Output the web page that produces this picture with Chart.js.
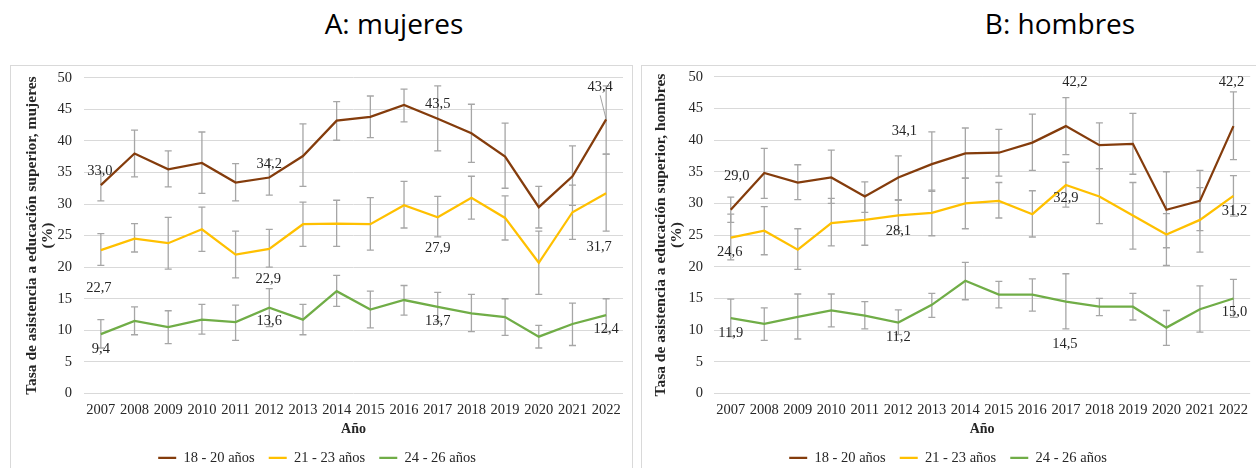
<!DOCTYPE html>
<html>
<head>
<meta charset="utf-8">
<script src="https://cdn.jsdelivr.net/npm/chart.js@4.4.1/dist/chart.umd.min.js"></script>
<style>
  html, body { margin:0; padding:0; background:#fff; width:1256px; height:468px; overflow:hidden; }
  .title { position:absolute; top:4px; font-family:"Open Sans", sans-serif; font-size:28px; color:#000; white-space:nowrap; transform:translateX(-50%); }
  .box { position:absolute; top:65px; border:1px solid #d9d9d9; height:430px; }
  canvas { position:absolute; top:57px; }
</style>
</head>
<body>
<div class="title" style="left:394px;">A: mujeres</div>
<div class="title" style="left:1060px;">B: hombres</div>
<div class="box" style="left:10px; width:621px;"></div>
<div class="box" style="left:641px; width:640px;"></div>
<canvas id="cM" width="621" height="418" style="left:11px;"></canvas>
<canvas id="cH" width="614" height="418" style="left:642px;"></canvas>
<script>
// ---------- DATA ----------
const years = ['2007','2008','2009','2010','2011','2012','2013','2014','2015','2016','2017','2018','2019','2020','2021','2022'];
const seriesNames = ['18 - 20 años', '21 - 23 años', '24 - 26 años'];
const yTickValues = [0, 5, 10, 15, 20, 25, 30, 35, 40, 45, 50];

// A: mujeres
const muj18 = [33.0, 38.0, 35.5, 36.5, 33.4, 34.2, 37.6, 43.2, 43.8, 45.7, 43.5, 41.2, 37.5, 29.5, 34.4, 43.4];
const muj18Hi = [35.0, 41.7, 38.4, 41.4, 36.4, 37.0, 42.7, 46.2, 47.1, 48.2, 48.7, 45.8, 42.8, 32.8, 39.2, 48.7];
const muj18Lo = [30.5, 34.3, 32.7, 31.7, 30.5, 31.4, 32.8, 40.1, 40.5, 43.0, 38.4, 36.6, 32.5, 26.2, 29.8, 37.9];
const muj21 = [22.7, 24.5, 23.8, 26.0, 22.0, 22.9, 26.8, 26.9, 26.8, 29.8, 27.9, 31.0, 27.8, 20.7, 28.7, 31.7];
const muj21Hi = [25.3, 26.9, 27.9, 29.5, 25.7, 26.0, 30.3, 30.6, 31.0, 33.6, 31.2, 34.4, 31.3, 25.7, 33.0, 37.9];
const muj21Lo = [20.3, 22.4, 19.7, 22.5, 18.3, 20.0, 23.3, 23.3, 22.7, 26.2, 24.8, 27.6, 24.3, 15.7, 24.4, 25.7];
const muj24 = [9.4, 11.5, 10.5, 11.7, 11.3, 13.6, 11.7, 16.2, 13.3, 14.8, 13.7, 12.7, 12.1, 9.0, 11.0, 12.4];
const muj24Hi = [11.7, 13.7, 13.1, 14.1, 14.0, 16.6, 14.1, 18.7, 16.2, 17.1, 16.0, 15.7, 15.0, 10.8, 14.3, 15.0];
const muj24Lo = [7.2, 9.3, 7.9, 9.4, 8.4, 10.6, 9.3, 13.8, 10.4, 12.4, 11.4, 9.8, 9.2, 7.2, 7.6, 9.8];

// B: hombres
const hom18 = [29.0, 34.8, 33.3, 34.1, 31.1, 34.1, 36.2, 37.9, 38.0, 39.6, 42.2, 39.2, 39.4, 29.0, 30.4, 42.2];
const hom18Hi = [31.0, 38.7, 36.1, 38.4, 33.4, 37.5, 41.3, 41.9, 41.7, 44.1, 46.7, 42.7, 44.2, 35.0, 35.2, 47.6];
const hom18Lo = [27.0, 30.8, 30.6, 30.0, 28.6, 30.6, 31.9, 34.0, 34.3, 35.2, 37.7, 35.5, 34.6, 23.0, 25.7, 36.9];
const hom21 = [24.6, 25.7, 22.7, 26.9, 27.4, 28.1, 28.5, 30.0, 30.4, 28.3, 32.9, 31.1, 28.1, 25.1, 27.4, 31.2];
const hom21Hi = [28.3, 29.5, 26.0, 30.8, 31.3, 30.5, 32.1, 34.0, 33.3, 32.0, 36.5, 35.5, 33.3, 28.4, 32.5, 34.4];
const hom21Lo = [21.1, 21.9, 19.6, 23.3, 23.4, 25.7, 24.9, 26.0, 27.7, 24.7, 29.4, 26.8, 22.8, 20.2, 22.3, 28.0];
const hom24 = [11.9, 11.0, 12.1, 13.1, 12.3, 11.2, 14.0, 17.8, 15.6, 15.6, 14.5, 13.7, 13.7, 10.4, 13.3, 15.0];
const hom24Hi = [14.9, 13.5, 15.7, 15.7, 14.5, 13.2, 15.8, 20.7, 17.7, 18.1, 18.9, 15.0, 15.8, 13.1, 17.0, 18.0];
const hom24Lo = [9.0, 8.4, 8.6, 10.5, 10.2, 9.3, 12.0, 14.8, 13.5, 13.0, 10.2, 12.3, 11.6, 7.6, 9.7, 12.0];

// ---------- STYLE ----------
const colors = ['#843C0C', '#FFC000', '#70AD47'];
const SERIF = '"Liberation Serif", "DejaVu Serif", serif';
const TEXT = '#262626';

// which points carry a value label, and where it sits relative to the point (px)
const labelsM = [
  {ds:0, i:0, dx:-1, dy:-14}, {ds:0, i:5, dx:0, dy:-13.5}, {ds:0, i:10, dx:0, dy:-15}, {ds:0, i:15, dx:-6, dy:-32, leader:true},
  {ds:1, i:0, dx:-2, dy:38}, {ds:1, i:5, dx:-1, dy:30}, {ds:1, i:10, dx:0, dy:30.5}, {ds:1, i:15, dx:-7, dy:54},
  {ds:2, i:0, dx:0, dy:15}, {ds:2, i:5, dx:0, dy:14}, {ds:2, i:10, dx:0, dy:14}, {ds:2, i:15, dx:0, dy:14.5}
];
const labelsH = [
  {ds:0, i:0, dx:6, dy:-34}, {ds:0, i:5, dx:6, dy:-46.5}, {ds:0, i:10, dx:9, dy:-44}, {ds:0, i:15, dx:-2, dy:-44},
  {ds:1, i:0, dx:-1, dy:15}, {ds:1, i:5, dx:0, dy:15.5}, {ds:1, i:10, dx:0, dy:13.5}, {ds:1, i:15, dx:1, dy:15},
  {ds:2, i:0, dx:0, dy:15}, {ds:2, i:5, dx:0, dy:15}, {ds:2, i:10, dx:-1, dy:43}, {ds:2, i:15, dx:1, dy:14}
];

const errorBarPlugin = {
  id: 'errorBars',
  beforeDatasetsDraw(chart) {
    const ctx = chart.ctx, y = chart.scales.y;
    ctx.save();
    ctx.strokeStyle = '#A6A6A6';
    ctx.lineWidth = 1.3;
    chart.data.datasets.forEach((ds, di) => {
      const meta = chart.getDatasetMeta(di);
      ds.errLow.forEach((lo, i) => {
        const px = meta.data[i].x;
        const yl = y.getPixelForValue(lo), yh = y.getPixelForValue(ds.errHigh[i]);
        ctx.beginPath();
        ctx.moveTo(px, yl); ctx.lineTo(px, yh);
        ctx.moveTo(px - 3.5, yl); ctx.lineTo(px + 3.5, yl);
        ctx.moveTo(px - 3.5, yh); ctx.lineTo(px + 3.5, yh);
        ctx.stroke();
      });
    });
    ctx.restore();
  }
};

const valueLabelPlugin = {
  id: 'valueLabels',
  afterDatasetsDraw(chart, args, opts) {
    const ctx = chart.ctx;
    ctx.save();
    ctx.font = '14.5px ' + SERIF;
    ctx.fillStyle = TEXT;
    ctx.textAlign = 'center';
    ctx.textBaseline = 'middle';
    (opts.items || []).forEach(l => {
      const pt = chart.getDatasetMeta(l.ds).data[l.i];
      const v = chart.data.datasets[l.ds].data[l.i];
      const tx = pt.x + l.dx, ty = pt.y + l.dy;
      if (l.leader) {
        ctx.save();
        ctx.strokeStyle = '#8c8c8c';
        ctx.lineWidth = 0.8;
        ctx.beginPath();
        ctx.moveTo(tx, ty + 8);
        ctx.lineTo(pt.x, pt.y);
        ctx.stroke();
        ctx.restore();
      }
      ctx.fillText(v.toFixed(1).replace('.', ','), tx, ty);
    });
    ctx.restore();
  }
};

function makeChart(id, series, his, los, labelItems, yTitle, axisW, tickPad, titlePad, rightPad) {
  new Chart(document.getElementById(id), {
    type: 'line',
    data: {
      labels: years,
      datasets: series.map((s, k) => ({
        label: seriesNames[k],
        data: s,
        errHigh: his[k],
        errLow: los[k],
        borderColor: colors[k],
        backgroundColor: colors[k],
        borderWidth: 2.25,
        pointRadius: 0,
        tension: 0,
        fill: false
      }))
    },
    options: {
      responsive: false,
      animation: false,
      events: [],
      layout: { padding: { left: 0, right: rightPad, top: 2, bottom: 0 } },
      scales: {
        x: {
          offset: true,
          grid: { display: false, drawTicks: false },
          border: { display: false },
          ticks: { font: { family: SERIF, size: 14.5 }, color: TEXT, padding: 8, maxRotation: 0, autoSkip: false },
          title: { display: true, text: 'Año', font: { family: SERIF, size: 14, weight: 'bold', lineHeight: 1 }, color: TEXT, padding: { top: 0, bottom: 0 } },
          afterFit(scale) { scale.height = 43; }
        },
        y: {
          min: 0, max: 50,
          afterBuildTicks(scale) { scale.ticks = yTickValues.map(v => ({ value: v })); },
          grid: { color: '#d9d9d9', lineWidth: 1, drawTicks: false },
          border: { display: false },
          ticks: { font: { family: SERIF, size: 14.5 }, color: TEXT, padding: tickPad },
          title: { display: true, text: [yTitle, '(%)'], font: { family: SERIF, size: 15.5, weight: 'bold', lineHeight: 1.05 }, color: TEXT, padding: { top: titlePad, bottom: 0 } },
          afterFit(scale) { scale.width = axisW; }
        }
      },
      plugins: {
        legend: {
          position: 'bottom',
          labels: {
            usePointStyle: true, pointStyle: 'line', pointStyleWidth: 18,
            font: { family: SERIF, size: 14.5 }, color: TEXT, padding: 14
          }
        },
        tooltip: { enabled: false },
        valueLabels: { items: labelItems }
      }
    },
    plugins: [errorBarPlugin, valueLabelPlugin]
  });
}

makeChart('cM', [muj18, muj21, muj24], [muj18Hi, muj21Hi, muj24Hi], [muj18Lo, muj21Lo, muj24Lo], labelsM,
  'Tasa de asistencia a educación superior, mujeres', 73, 12, 13, 9);
makeChart('cH', [hom18, hom21, hom24], [hom18Hi, hom21Hi, hom24Hi], [hom18Lo, hom21Lo, hom24Lo], labelsH,
  'Tasa de asistencia a educación superior, hombres', 72, 11, 11, 2);
</script>
</body>
</html>
